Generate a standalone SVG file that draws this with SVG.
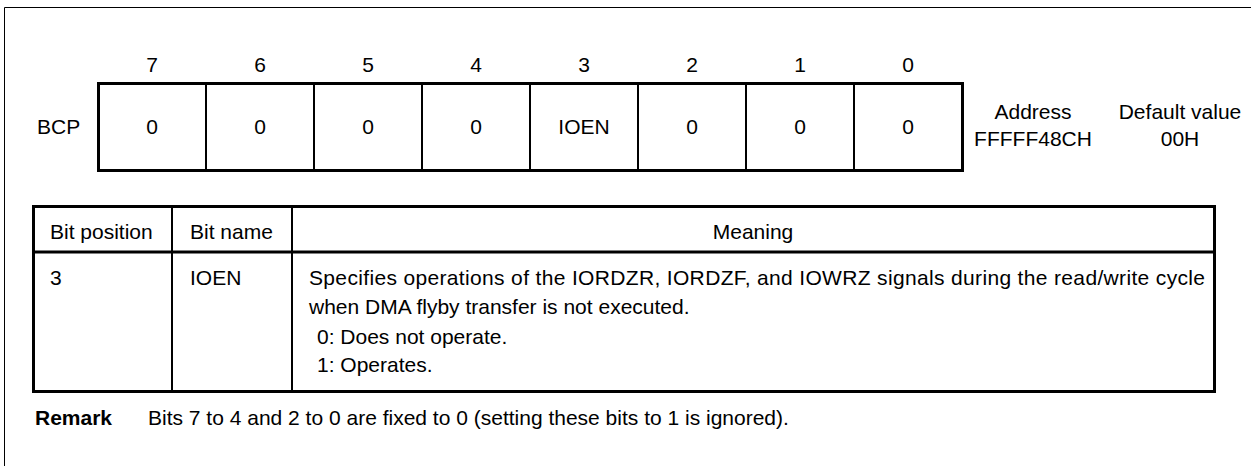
<svg xmlns="http://www.w3.org/2000/svg" width="1251" height="466" viewBox="0 0 1251 466">
<style>
text{font-family:"Liberation Sans",Arial,sans-serif;font-size:21px;fill:#000}
.c{text-anchor:middle}
.b{font-weight:bold}
.thick{fill:none;stroke:#000;stroke-width:3}
.thin{fill:none;stroke:#000;stroke-width:2}
.frame{fill:none;stroke:#000;stroke-width:1}
</style>
<rect width="1251" height="466" fill="#fff"/>
<path class="frame" d="M4.5,466 V7.5 H1251"/>
<g id="bitnumbers">
<text class="c" x="152" y="72">7</text>
<text class="c" x="260" y="72">6</text>
<text class="c" x="368" y="72">5</text>
<text class="c" x="476" y="72">4</text>
<text class="c" x="584" y="72">3</text>
<text class="c" x="692" y="72">2</text>
<text class="c" x="800" y="72">1</text>
<text class="c" x="908" y="72">0</text>
</g>
<g id="register">
<text x="37" y="134">BCP</text>
<rect class="thick" x="98.5" y="83.5" width="864" height="87"/>
<path class="thin" d="M206,84V170M314,84V170M422,84V170M530,84V170M638,84V170M746,84V170M854,84V170"/>
<text class="c" x="152" y="134">0</text>
<text class="c" x="260" y="134">0</text>
<text class="c" x="368" y="134">0</text>
<text class="c" x="476" y="134">0</text>
<text class="c" x="584" y="134">IOEN</text>
<text class="c" x="692" y="134">0</text>
<text class="c" x="800" y="134">0</text>
<text class="c" x="908" y="134">0</text>
</g>
<g id="address">
<text class="c" x="1033" y="119">Address</text>
<text class="c" x="1033" y="146">FFFFF48CH</text>
</g>
<g id="default">
<text class="c" x="1180" y="119">Default value</text>
<text class="c" x="1180" y="146">00H</text>
</g>
<g id="table">
<rect class="thick" x="33.5" y="206.5" width="1181" height="185"/>
<path class="thick" d="M34,252H1214"/>
<path class="thin" d="M172,207V391M292,207V391"/>
<text x="50" y="239">Bit position</text>
<text x="190" y="239">Bit name</text>
<text class="c" x="753" y="239">Meaning</text>
<text x="50" y="285">3</text>
<text x="190" y="285">IOEN</text>
<text x="309" y="285" textLength="896" lengthAdjust="spacing">Specifies operations of the IORDZR, IORDZF, and IOWRZ signals during the read/write cycle</text>
<text x="309" y="314">when DMA flyby transfer is not executed.</text>
<text x="317" y="344">0: Does not operate.</text>
<text x="317" y="372">1: Operates.</text>
</g>
<g id="remark">
<text class="b" x="35" y="425">Remark</text>
<text x="148" y="425">Bits 7 to 4 and 2 to 0 are fixed to 0 (setting these bits to 1 is ignored).</text>
</g>
</svg>
